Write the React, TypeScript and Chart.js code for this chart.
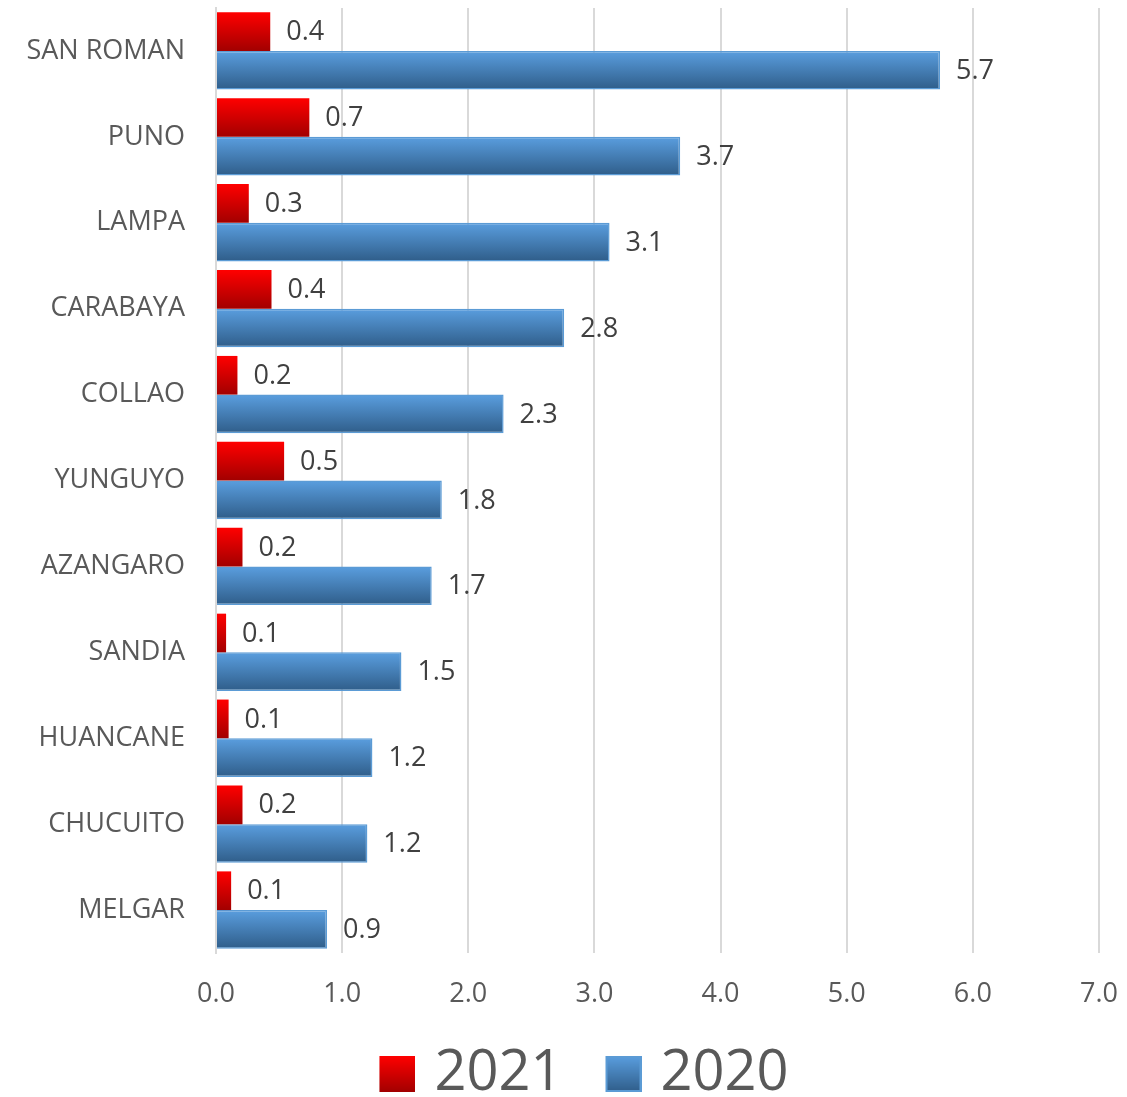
import { useEffect, useRef } from "react";
import { Chart, registerables } from "chart.js";

Chart.register(...registerables);

const provinces = [
  "SAN ROMAN", "PUNO", "LAMPA", "CARABAYA", "COLLAO", "YUNGUYO",
  "AZANGARO", "SANDIA", "HUANCANE", "CHUCUITO", "MELGAR",
];
const values2021 = [0.43, 0.74, 0.26, 0.44, 0.17, 0.54, 0.21, 0.08, 0.1, 0.21, 0.12];
const values2020 = [5.74, 3.68, 3.12, 2.76, 2.28, 1.79, 1.71, 1.47, 1.24, 1.2, 0.88];
const seriesLabels = ["2021", "2020"];

const FONT = "'Open Sans', 'DejaVu Sans', sans-serif";
const gradStops = [
  { top: "#ff0000", bottom: "#a20000", border: null },
  { top: "#5a9edf", bottom: "#2f5d89", border: "#5b9bd5" },
];

// legend swatch: transparent area on the left so the box sits close to the text
function makeSwatch(i: number) {
  const c = document.createElement("canvas");
  c.width = 88;
  c.height = 36;
  const ctx = c.getContext("2d")!;
  const g = ctx.createLinearGradient(0, 0, 0, 36);
  g.addColorStop(0, gradStops[i].top);
  g.addColorStop(1, gradStops[i].bottom);
  ctx.fillStyle = g;
  ctx.fillRect(52, 0, 36, 36);
  if (gradStops[i].border) {
    ctx.strokeStyle = gradStops[i].border!;
    ctx.lineWidth = 2;
    ctx.strokeRect(53, 1, 34, 34);
  }
  return c;
}

const gradientBars = {
  id: "gradientBars",
  beforeDatasetsDraw(chart: any) {
    const ctx = chart.ctx;
    chart.data.datasets.forEach((_: any, di: number) => {
      chart.getDatasetMeta(di).data.forEach((el: any) => {
        const { y, height } = el.getProps(["y", "height"], true);
        const top = y - height / 2;
        const g = ctx.createLinearGradient(0, top, 0, top + height);
        g.addColorStop(0, gradStops[di].top);
        g.addColorStop(1, gradStops[di].bottom);
        el.options = { ...el.options, backgroundColor: g };
      });
    });
  },
};

const valueLabels = {
  id: "valueLabels",
  afterDatasetsDraw(chart: any) {
    const ctx = chart.ctx;
    ctx.save();
    ctx.font = `27px ${FONT}`;
    ctx.fillStyle = "#404040";
    ctx.textAlign = "left";
    ctx.textBaseline = "middle";
    chart.data.datasets.forEach((ds: any, di: number) => {
      chart.getDatasetMeta(di).data.forEach((el: any, i: number) => {
        ctx.fillText(Number(ds.data[i]).toFixed(1), el.x + 16, el.y + 1);
      });
    });
    ctx.restore();
  },
};

export default function App() {
  const chartRef = useRef<HTMLCanvasElement>(null);
  const chartInstanceRef = useRef<Chart | null>(null);

  useEffect(() => {
    if (!chartRef.current) return;
    if (chartInstanceRef.current) chartInstanceRef.current.destroy();
    const ctx = chartRef.current.getContext("2d");
    if (!ctx) return;

    const swatches = [makeSwatch(0), makeSwatch(1)];

    chartInstanceRef.current = new Chart(ctx, {
      type: "bar",
      data: {
        labels: provinces,
        datasets: [
          {
            label: seriesLabels[0],
            data: values2021,
            backgroundColor: "#ff0000",
            borderWidth: 0,
            barPercentage: 1,
            categoryPercentage: 0.9,
          },
          {
            label: seriesLabels[1],
            data: values2020,
            backgroundColor: "#4a86c0",
            borderColor: "#5b9bd5",
            borderWidth: 1.5,
            barPercentage: 1,
            categoryPercentage: 0.9,
          },
        ],
      },
      options: {
        indexAxis: "y",
        animation: false,
        responsive: true,
        maintainAspectRatio: false,
        layout: { padding: { top: 8, left: 26, right: 28, bottom: -15 } },
        scales: {
          x: {
            min: 0,
            max: 7,
            afterFit: (scale: any) => {
              scale.height = 93;
              scale.paddingLeft = 0;
              scale.paddingRight = 0;
            },
            ticks: {
              stepSize: 1,
              padding: 25,
              color: "#595959",
              font: { family: FONT, size: 27 },
              callback: (v: any) => Number(v).toFixed(1),
            },
            grid: { color: "#d9d9d9", lineWidth: 2, drawTicks: false },
            border: { display: false },
          },
          y: {
            afterFit: (scale: any) => {
              scale.width = 190;
              scale.paddingTop = 0;
              scale.paddingBottom = 0;
            },
            ticks: {
              padding: 31,
              color: "#595959",
              font: { family: FONT, size: 27 },
            },
            grid: { display: false, drawTicks: false },
            border: { display: true, color: "#d9d9d9", width: 2 },
          },
        },
        plugins: {
          tooltip: { enabled: false },
          legend: {
            position: "bottom",
            labels: {
              usePointStyle: true,
              pointStyleWidth: 70,
              padding: 0,
              color: "#595959",
              font: { family: FONT, size: 56 },
              generateLabels: (chart: any) =>
                chart.data.datasets.map((ds: any, i: number) => ({
                  text: ds.label,
                  pointStyle: swatches[i],
                  fillStyle: "transparent",
                  strokeStyle: "transparent",
                  lineWidth: 0,
                  hidden: false,
                  datasetIndex: i,
                  fontColor: "#595959",
                })),
            },
          },
        },
      },
      plugins: [gradientBars, valueLabels],
    } as any);

    return () => {
      if (chartInstanceRef.current) {
        chartInstanceRef.current.destroy();
        chartInstanceRef.current = null;
      }
    };
  }, []);

  return (
    <div style={{ position: "absolute", left: 0, top: 0, width: 1127, height: 1097, background: "#fff" }}>
      <canvas ref={chartRef}></canvas>
    </div>
  );
}
